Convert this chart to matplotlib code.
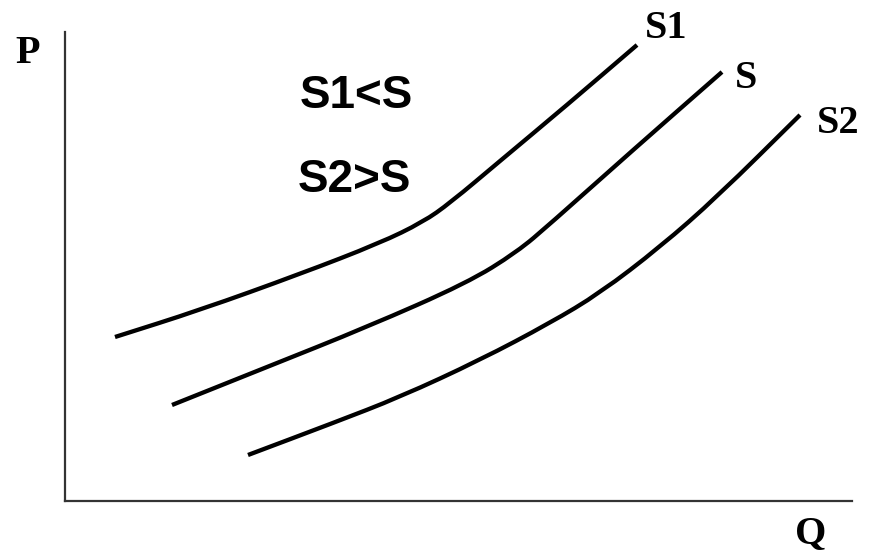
import matplotlib
matplotlib.use("Agg")
import matplotlib.pyplot as plt
from matplotlib.path import Path
from matplotlib.patches import PathPatch

# Supply curves (Q, P) in chart units
s1_q = [50, 135, 235, 315, 358, 385, 435, 502, 572]
s1_p = [164, 191, 227, 258, 279, 298, 340, 396, 456]
s_q = [107, 202, 302, 402, 452, 485, 568, 657]
s_p = [96, 134, 174, 218, 249, 277, 351, 429]
s2_q = [183, 268, 335, 415, 485, 535, 595, 652, 735]
s2_p = [46, 78, 104, 141, 178, 208, 254, 304, 386]

curve_labels = ["S1", "S", "S2"]
note_lines = ["S1<S", "S2>S"]
axis_labels = ["P", "Q"]


def smooth_path(q, p):
    pts = list(zip(q, p))
    verts = [pts[0]]
    codes = [Path.MOVETO]
    mid = lambda a, b: ((a[0] + b[0]) / 2, (a[1] + b[1]) / 2)
    verts.append(mid(pts[0], pts[1]))
    codes.append(Path.LINETO)
    for i in range(1, len(pts) - 1):
        verts += [pts[i], mid(pts[i], pts[i + 1])]
        codes += [Path.CURVE3, Path.CURVE3]
    verts.append(pts[-1])
    codes.append(Path.LINETO)
    return Path(verts, codes)


fig = plt.figure(figsize=(8.69, 5.51), dpi=100)
ax = fig.add_axes([0, 0, 1, 1])
ax.set_xlim(-65, 804)
ax.set_ylim(-50, 501)

for q, p in [(s1_q, s1_p), (s_q, s_p), (s2_q, s2_p)]:
    ax.add_patch(PathPatch(smooth_path(q, p), facecolor="none", edgecolor="black",
                           lw=3.1, capstyle="butt", joinstyle="round"))

for side in ["top", "right"]:
    ax.spines[side].set_visible(False)
for side in ["left", "bottom"]:
    ax.spines[side].set_position(("data", 0))
    ax.spines[side].set_color("#333333")
    ax.spines[side].set_linewidth(1.6)
ax.spines["left"].set_bounds(0, 469)
ax.spines["bottom"].set_bounds(0, 787)
ax.set_xticks([])
ax.set_yticks([])

serif = dict(family="Liberation Serif", fontweight="bold", fontsize=29, va="baseline", ha="left")
ax.text(-50, 438, axis_labels[0], **serif)
ax.text(730, -42, axis_labels[1], **serif)
ax.text(580, 463, curve_labels[0], **serif)
ax.text(670, 413, curve_labels[1], **serif)
ax.text(752, 368, curve_labels[2], **serif)

sans = dict(family="Liberation Sans", fontweight="bold", fontsize=33, va="baseline", ha="left")
ax.text(235, 393, note_lines[0], **sans)
ax.text(233, 309, note_lines[1], **sans)

fig.savefig("out.png", dpi=100)
